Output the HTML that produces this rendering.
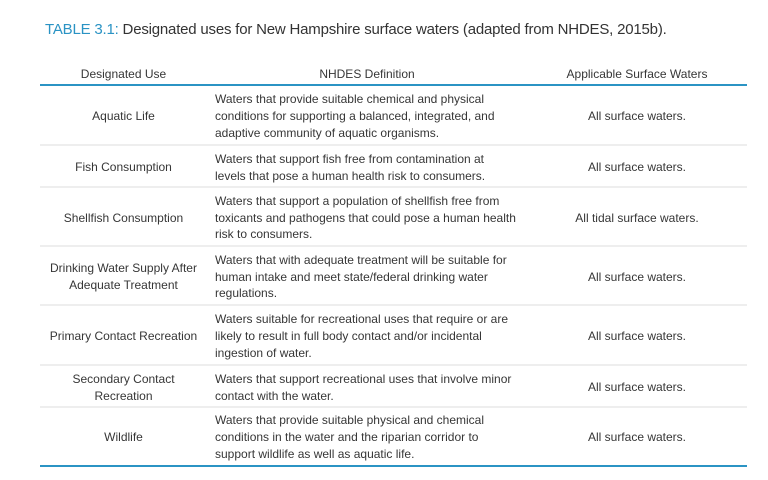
<!DOCTYPE html>
<html>
<head>
<meta charset="utf-8">
<style>
  html, body { margin:0; padding:0; background:#fff; }
  body { width:768px; height:480px; position:relative; overflow:hidden;
         font-family:"Liberation Sans", Arial, sans-serif; color:#363636; }
  .title { position:absolute; left:45px; top:21px; font-size:15px; line-height:18px;
           letter-spacing:-0.2px; white-space:nowrap; color:#333; }
  .title .b { color:#2a93c4; }
  .hdr { position:absolute; top:66px; font-size:12px; line-height:17px; text-align:center; white-space:nowrap; }
  .line { position:absolute; left:40px; width:707px; }
  .blue { height:2px; background:#2b94c4; }
  .gray { height:2px; background:#eeeeee; }
  .row { position:absolute; left:40px; width:707px; display:flex; font-size:12px; line-height:16.7px; }
  .c1 { width:167px; display:flex; align-items:center; justify-content:center; text-align:center; }
  .c2 { width:320px; display:flex; align-items:center; padding-left:8px; box-sizing:border-box; white-space:nowrap; }
  .c3 { width:220px; display:flex; align-items:center; justify-content:center; text-align:center; }
  .in { padding-top:2px; }
</style>
</head>
<body>
  <div class="title"><span class="b">TABLE 3.1:</span> Designated uses for New Hampshire surface waters (adapted from NHDES, 2015b).</div>

  <div class="hdr" style="left:40px;width:167px;">Designated Use</div>
  <div class="hdr" style="left:207px;width:320px;">NHDES Definition</div>
  <div class="hdr" style="left:527px;width:220px;">Applicable Surface Waters</div>

  <div class="line blue" style="top:84px;"></div>

  <div class="row" style="top:86px;height:59px;">
    <div class="c1"><div class="in">Aquatic Life</div></div>
    <div class="c2"><div class="in">Waters that provide suitable chemical and physical<br>conditions for supporting a balanced, integrated, and<br>adaptive community of aquatic organisms.</div></div>
    <div class="c3"><div class="in">All surface waters.</div></div>
  </div>
  <div class="line gray" style="top:144px;"></div>

  <div class="row" style="top:146px;height:41px;">
    <div class="c1"><div class="in">Fish Consumption</div></div>
    <div class="c2"><div class="in">Waters that support fish free from contamination at<br>levels that pose a human health risk to consumers.</div></div>
    <div class="c3"><div class="in">All surface waters.</div></div>
  </div>
  <div class="line gray" style="top:186px;"></div>

  <div class="row" style="top:188px;height:58px;">
    <div class="c1"><div class="in">Shellfish Consumption</div></div>
    <div class="c2"><div class="in">Waters that support a population of shellfish free from<br>toxicants and pathogens that could pose a human health<br>risk to consumers.</div></div>
    <div class="c3"><div class="in">All tidal surface waters.</div></div>
  </div>
  <div class="line gray" style="top:245px;"></div>

  <div class="row" style="top:247px;height:58px;">
    <div class="c1"><div class="in">Drinking Water Supply After<br>Adequate Treatment</div></div>
    <div class="c2"><div class="in">Waters that with adequate treatment will be suitable for<br>human intake and meet state/federal drinking water<br>regulations.</div></div>
    <div class="c3"><div class="in">All surface waters.</div></div>
  </div>
  <div class="line gray" style="top:304px;"></div>

  <div class="row" style="top:306px;height:59px;">
    <div class="c1"><div class="in">Primary Contact Recreation</div></div>
    <div class="c2"><div class="in">Waters suitable for recreational uses that require or are<br>likely to result in full body contact and/or incidental<br>ingestion of water.</div></div>
    <div class="c3"><div class="in">All surface waters.</div></div>
  </div>
  <div class="line gray" style="top:364px;"></div>

  <div class="row" style="top:366px;height:41px;">
    <div class="c1"><div class="in">Secondary Contact<br>Recreation</div></div>
    <div class="c2"><div class="in">Waters that support recreational uses that involve minor<br>contact with the water.</div></div>
    <div class="c3"><div class="in">All surface waters.</div></div>
  </div>
  <div class="line gray" style="top:406px;"></div>

  <div class="row" style="top:408px;height:57px;">
    <div class="c1"><div class="in">Wildlife</div></div>
    <div class="c2"><div class="in">Waters that provide suitable physical and chemical<br>conditions in the water and the riparian corridor to<br>support wildlife as well as aquatic life.</div></div>
    <div class="c3"><div class="in">All surface waters.</div></div>
  </div>
  <div class="line blue" style="top:465px;"></div>
</body>
</html>
